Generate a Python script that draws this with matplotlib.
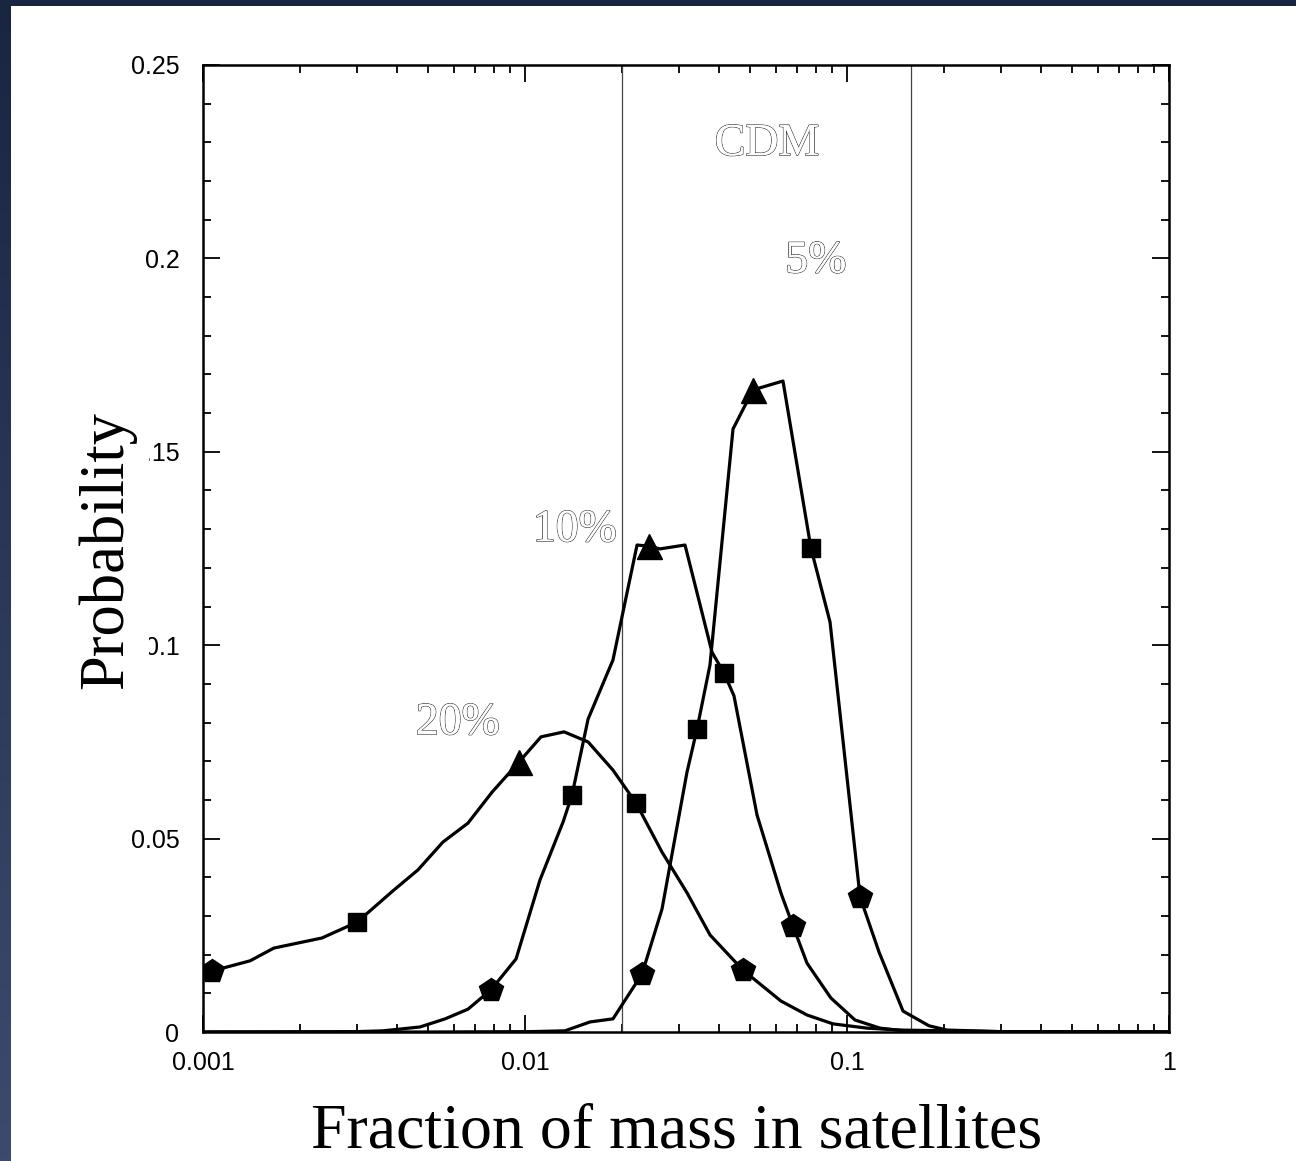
import numpy as np
import matplotlib
matplotlib.use('Agg')
import matplotlib.pyplot as plt
from matplotlib.patches import Rectangle
from matplotlib.ticker import FixedLocator, MultipleLocator, NullFormatter, FixedFormatter
from matplotlib.colors import LinearSegmentedColormap
import matplotlib.patheffects as pe

# ---------------- data ----------------
x20 = [0.00107, 0.00140, 0.00166, 0.00234, 0.00301, 0.00389, 0.00465, 0.00556, 0.00665,
       0.00790, 0.00958, 0.01121, 0.01322, 0.01570, 0.01876, 0.02212, 0.02664, 0.03185,
       0.03754, 0.04753, 0.06237, 0.07512, 0.09048, 0.1153, 0.1461, 0.2985, 1.0]
y20 = [0.0158, 0.0184, 0.0217, 0.0243, 0.0284, 0.0365, 0.0419, 0.0491, 0.0540,
       0.0620, 0.0698, 0.0763, 0.0776, 0.0750, 0.0677, 0.0592, 0.0465, 0.0360,
       0.0251, 0.0160, 0.0080, 0.0044, 0.0021, 0.0010, 0.0005, 0.0001, 0.0]

x10 = [0.001, 0.00301, 0.00362, 0.00472, 0.00565, 0.00665, 0.00784, 0.00938, 0.01113,
       0.01313, 0.01400, 0.01570, 0.01876, 0.02228, 0.02427, 0.02624, 0.03140, 0.03808,
       0.04150, 0.04457, 0.05255, 0.06237, 0.06797, 0.07512, 0.0891, 0.1059, 0.1266,
       0.158, 0.25, 1.0]
y10 = [0.0, 0.0001, 0.0003, 0.0013, 0.0034, 0.0059, 0.0109, 0.0189, 0.0393,
       0.0543, 0.0613, 0.0809, 0.0962, 0.1259, 0.1256, 0.1249, 0.1259, 0.0982,
       0.0928, 0.0869, 0.0561, 0.0359, 0.0274, 0.0178, 0.0088, 0.0031, 0.0010,
       0.0001, 0.0, 0.0]

x5 = [0.001, 0.005, 0.0104, 0.0133, 0.01592, 0.01876, 0.02309, 0.02664, 0.03185,
      0.03421, 0.03754, 0.04426, 0.05105, 0.06326, 0.07727, 0.08857, 0.1098, 0.1257,
      0.1493, 0.1798, 0.2045, 0.2985, 1.0]
y5 = [0.0, 0.0, 0.0001, 0.0003, 0.0026, 0.0034, 0.0150, 0.0318, 0.0672,
      0.0783, 0.0949, 0.1559, 0.1660, 0.1683, 0.1251, 0.1060, 0.0349, 0.0207,
      0.0054, 0.0016, 0.0005, 0.0001, 0.0]

# marker points (pentagon, square, triangle) per curve
pent20_x, pent20_y = [0.00107, 0.04753], [0.0158, 0.0160]
sq20_x, sq20_y = [0.00301, 0.02212], [0.0284, 0.0592]
tri20_x, tri20_y = [0.00958], [0.0698]

pent10_x, pent10_y = [0.00784, 0.06797], [0.0109, 0.0274]
sq10_x, sq10_y = [0.01400, 0.04150], [0.0613, 0.0928]
tri10_x, tri10_y = [0.02427], [0.1256]

pent5_x, pent5_y = [0.02309, 0.1098], [0.0150, 0.0349]
sq5_x, sq5_y = [0.03421, 0.07727], [0.0783, 0.1251]
tri5_x, tri5_y = [0.05105], [0.1660]

cdm_bounds = [0.02, 0.158]

xticks = [0.001, 0.01, 0.1, 1]
xticklabels = ['0.001', '0.01', '0.1', '1']
yticks = [0, 0.05, 0.1, 0.15, 0.2, 0.25]
yticklabels = ['0', '0.05', '0.1', '0.15', '0.2', '0.25']

labels = ['CDM', '5%', '10%', '20%']
label_x = [0.0565, 0.0801, 0.01429, 0.00619]
label_y = [0.2296, 0.1993, 0.1298, 0.0799]

# ---------------- figure ----------------
W, H = 1296, 1161
fig = plt.figure(figsize=(W / 100, H / 100), dpi=100)
fig.patch.set_facecolor('#1e2a48')

# gradient for the dark frame
bg = fig.add_axes([0, 0, 1, 1], zorder=-10)
grad = np.linspace(0, 1, 256).reshape(-1, 1)
cmap = LinearSegmentedColormap.from_list('bgc', ['#1a2542', '#3c4b6d'])
bg.imshow(grad, aspect='auto', cmap=cmap, extent=[0, 1, 0, 1], origin='upper')
bg.set_axis_off()
bg.add_patch(Rectangle((11 / W, 0), 1 - 11 / W, 1 - 6 / H, transform=bg.transAxes,
                       facecolor='white', edgecolor='none'))

ax = fig.add_axes([203 / W, 1 - 1032 / H, (1169 - 203) / W, (1032 - 65) / H])
ax.set_xscale('log')
ax.set_xlim(0.001, 1)
ax.set_ylim(0, 0.25)

lw = 2.3
col = 'black'
for xs, ys in [(x20, y20), (x10, y10), (x5, y5)]:
    ax.plot(xs, ys, color=col, lw=lw, zorder=3)

for px, py in [(pent20_x, pent20_y), (pent10_x, pent10_y), (pent5_x, pent5_y)]:
    ax.plot(px, py, linestyle='none', marker='p', ms=18, color=col, zorder=4)
for px, py in [(sq20_x, sq20_y), (sq10_x, sq10_y), (sq5_x, sq5_y)]:
    ax.plot(px, py, linestyle='none', marker='s', ms=13.5, color=col, zorder=4)
for px, py in [(tri20_x, tri20_y), (tri10_x, tri10_y), (tri5_x, tri5_y)]:
    ax.plot(px, py, linestyle='none', marker='^', ms=18, color=col, zorder=4)

for b in cdm_bounds:
    ax.axvline(b, color='#444444', lw=0.9, zorder=2)

for t, xx, yy in zip(labels, label_x, label_y):
    txt = ax.text(xx, yy, t, ha='center', va='center', fontsize=33,
                  family='Liberation Serif', color='white', zorder=5)
    txt.set_path_effects([pe.withStroke(linewidth=1.0, foreground='#2e2e2e'),
                          pe.Normal()])

# ticks
ax.xaxis.set_major_locator(FixedLocator(xticks))
ax.xaxis.set_major_formatter(FixedFormatter(xticklabels))
minors = [m * d for d in [0.001, 0.01, 0.1] for m in range(2, 10)]
ax.xaxis.set_minor_locator(FixedLocator(minors))
ax.xaxis.set_minor_formatter(NullFormatter())
ax.yaxis.set_major_locator(FixedLocator(yticks))
ax.yaxis.set_major_formatter(FixedFormatter(yticklabels))
ax.yaxis.set_minor_locator(MultipleLocator(0.01))

ax.tick_params(which='both', direction='in', top=True, right=True, width=1.3, color='black')
ax.tick_params(which='major', length=12)
ax.tick_params(which='minor', length=6)
ax.tick_params(axis='x', which='major', pad=14, labelsize=18)
ax.tick_params(axis='y', which='major', pad=17, labelsize=18)
for lab in ax.get_xticklabels() + ax.get_yticklabels():
    lab.set_family('Liberation Sans')
for s in ax.spines.values():
    s.set_linewidth(1.8)

fig.text(677 / W, 1 - 1148 / H, 'Fraction of mass in satellites', ha='center', va='baseline',
         fontsize=46, family='Liberation Serif', color='black')
fig.text(107 / W, 1 - 550 / H, 'Probability', rotation=90, ha='center', va='center',
         fontsize=45, family='Liberation Serif', color='black',
         bbox=dict(facecolor='white', edgecolor='none', pad=9))

fig.savefig('out.png', dpi=100, facecolor=fig.get_facecolor())
